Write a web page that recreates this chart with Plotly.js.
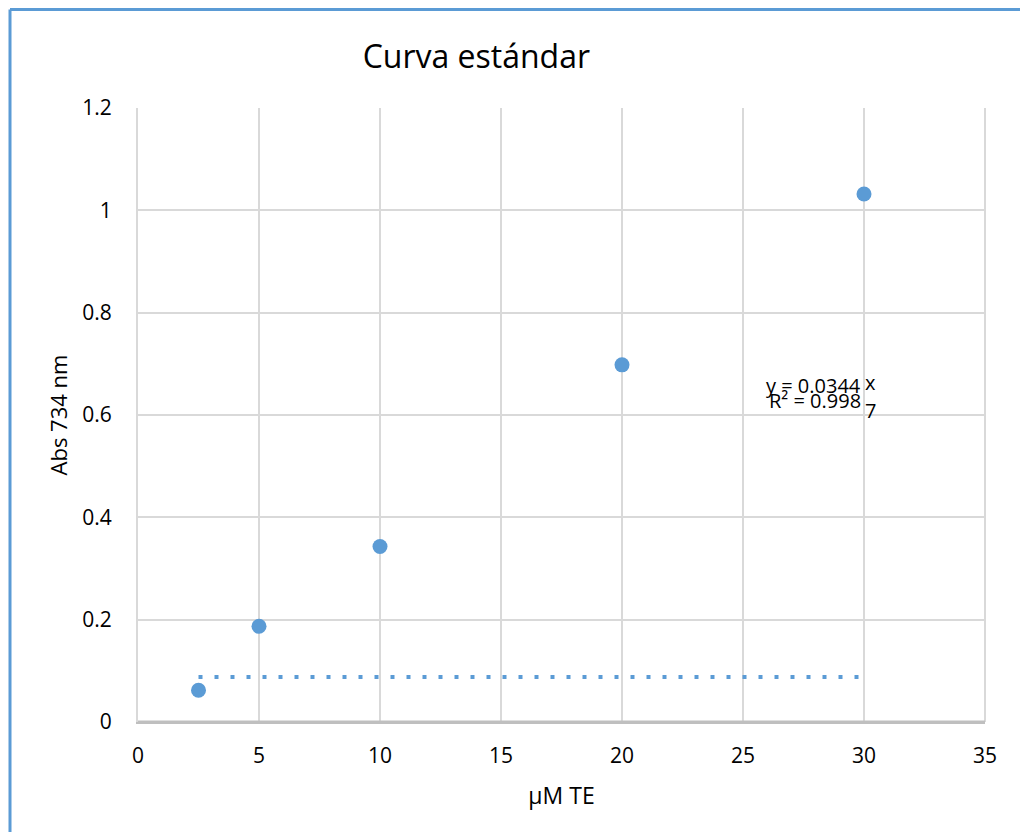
<!DOCTYPE html>
<html><head><meta charset="utf-8">
<script src="https://cdn.plot.ly/plotly-3.0.1.min.js"></script>
<style>body{margin:0;background:#fff}#c{width:1020px;height:832px}</style>
</head><body><div id="c"></div>
<script>
const concentrations = [2.5, 5, 10, 20, 30];
const absorbance = [0.062, 0.187, 0.343, 0.698, 1.032];
const trendX = [2.5, 30];
const trendY = [0.088, 0.088];
const xTicks = [0, 5, 10, 15, 20, 25, 30, 35];
const yTicks = [0, 0.2, 0.4, 0.6, 0.8, 1, 1.2];
const yTickText = ['0', '0.2', '0.4', '0.6', '0.8', '1', '1.2'];

const font = '"Open Sans", "Noto Sans", sans-serif';
const blue = '#5b9bd5';

const data = [
  {x: trendX, y: trendY, mode: 'lines', type: 'scatter',
   line: {color: blue, width: 4, dash: '4px,12px'}, hoverinfo: 'skip'},
  {x: concentrations, y: absorbance, mode: 'markers', type: 'scatter',
   marker: {color: blue, size: 15}}
];

const layout = {
  width: 1020, height: 832,
  margin: {l: 138, r: 35, t: 108, b: 110},
  paper_bgcolor: '#fff', plot_bgcolor: '#fff',
  showlegend: false,
  font: {family: font, color: '#000', size: 21},
  title: {text: 'Curva estándar', x: 0.467, xanchor: 'center', y: 0.932, yanchor: 'middle',
          font: {family: font, size: 32, color: '#000'}},
  xaxis: {range: [0, 35], tickvals: xTicks, ticktext: xTicks.map(String),
          showgrid: true, gridcolor: '#d9d9d9', gridwidth: 2,
          showline: true, linecolor: '#bfbfbf', linewidth: 2, mirror: false,
          zeroline: false, ticks: '', ticklabelstandoff: 14,
          tickfont: {family: font, size: 21},
          title: {text: 'µM TE', font: {family: font, size: 23}, standoff: 20}},
  yaxis: {range: [0, 1.2], tickvals: yTicks, ticktext: yTickText,
          showgrid: true, gridcolor: '#d9d9d9', gridwidth: 2,
          showline: true, linecolor: '#d9d9d9', linewidth: 2,
          zeroline: false, ticks: '', ticklabelstandoff: 20,
          tickfont: {family: font, size: 21},
          title: {text: 'Abs 734 nm', font: {family: font, size: 22}, standoff: 9}},
  shapes: [
    {type: 'line', xref: 'paper', yref: 'paper', x0: 1, x1: 1, y0: 0, y1: 1,
     line: {color: '#d9d9d9', width: 2}},
    {type: 'line', xref: 'paper', yref: 'paper', x0: 0, x1: 1, y0: 0, y1: 0,
     line: {color: '#bfbfbf', width: 3}},
    {type: 'line', xref: 'paper', yref: 'paper', x0: (10-138)/847, x1: (10-138)/847,
     y0: -0.2, y1: (722-9.5)/614, line: {color: blue, width: 3}},
    {type: 'line', xref: 'paper', yref: 'paper', x0: (10-138)/847, x1: 0.1+882/847,
     y0: (722-9.5)/614, y1: (722-9.5)/614, line: {color: blue, width: 3}}
  ],
  annotations: [
    {xref: 'x', yref: 'y', x: 29.95, y: (722-385)/511.7, text: 'y = 0.0344', showarrow: false,
     xanchor: 'right', yanchor: 'middle', font: {family: font, size: 20}},
    {xref: 'x', yref: 'y', x: 29.95, y: (722-382)/511.7, text: 'x', showarrow: false,
     xanchor: 'left', yanchor: 'middle', font: {family: font, size: 20}},
    {xref: 'x', yref: 'y', x: 29.95, y: (722-400)/511.7, text: 'R² = 0.998', showarrow: false,
     xanchor: 'right', yanchor: 'middle', font: {family: font, size: 20}},
    {xref: 'x', yref: 'y', x: 29.95, y: (722-410)/511.7, text: '7', showarrow: false,
     xanchor: 'left', yanchor: 'middle', font: {family: font, size: 20}}
  ]
};
Plotly.newPlot('c', data, layout, {displayModeBar: false, staticPlot: true});
</script></body></html>
